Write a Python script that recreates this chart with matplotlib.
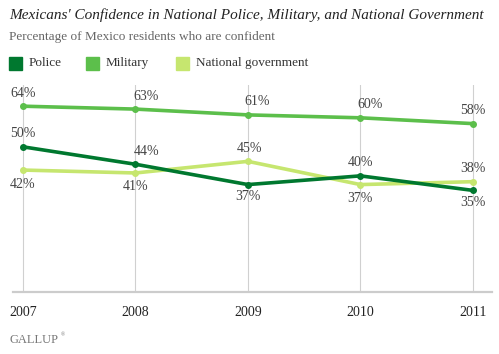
import matplotlib.pyplot as plt

years = [2007, 2008, 2009, 2010, 2011]
police = [50, 44, 37, 40, 35]
military = [64, 63, 61, 60, 58]
government = [42, 41, 45, 37, 38]

c_police = "#00782f"
c_military = "#5cbf4b"
c_gov = "#c6e66f"

plt.rcParams['font.family'] = ['Liberation Serif', 'DejaVu Serif']

fig = plt.figure(figsize=(4.99, 3.54), dpi=100)
ax = fig.add_axes([13 / 499, 1 - 292 / 354, 479 / 499, 207 / 354])

for vals, col in [(government, c_gov), (police, c_police), (military, c_military)]:
    ax.plot(years, vals, color=col, lw=2.6, marker="o", ms=4, solid_capstyle="round", zorder=3)

ax.set_xlim(2006.911, 2011.17)
ax.set_ylim(0, 71.3)
ax.set_xticks(years)
ax.set_xticklabels([str(y) for y in years], fontsize=10, color="#222222")
ax.set_yticks([])
ax.tick_params(axis="x", length=0, pad=10)
ax.grid(axis="x", color="#d0d0d0", lw=0.8, zorder=0)
for s in ["top", "right", "left"]:
    ax.spines[s].set_visible(False)
ax.spines["bottom"].set_color("#cccccc")
ax.spines["bottom"].set_linewidth(1.6)

# label shifts in pixels (x) per year: middle years nudged right
mil_dx = [0, 11, 9, 10, 0]
pol_dx = [0, 11, 0, 0, 0]
gov_dx = [0, 0, 2, 0, 0]

lab = dict(fontsize=10, color="#444444", zorder=4, ha="center", va="center", textcoords="offset pixels")
for i, y in enumerate(years):
    ax.annotate(f"{military[i]}%", (y, military[i]), xytext=(mil_dx[i], 13), **lab)
    up_p = 13 if police[i] > government[i] else -12
    ax.annotate(f"{police[i]}%", (y, police[i]), xytext=(pol_dx[i], up_p), **lab)
    ax.annotate(f"{government[i]}%", (y, government[i]), xytext=(gov_dx[i], -up_p - (1 if up_p > 0 else -1)), **lab)

fig.text(9 / 499, 1 - 15 / 354, "Mexicans' Confidence in National Police, Military, and National Government",
         fontsize=11, style="italic", color="#222222", va="center")
fig.text(9 / 499, 1 - 37 / 354, "Percentage of Mexico residents who are confident",
         fontsize=9.5, color="#666666", va="center")

legend_items = [("Police", c_police, 9), ("Military", c_military, 86), ("National government", c_gov, 176)]
for name, col, x0 in legend_items:
    fig.patches.append(plt.Rectangle((x0 / 499, 1 - 70 / 354), 13 / 499, 13 / 354,
                                     transform=fig.transFigure, color=col, figure=fig))
    fig.text((x0 + 20) / 499, 1 - 63 / 354, name, fontsize=9.5, color="#333333", va="center")

fig.text(9 / 499, 1 - 340 / 354, "GALLUP", fontsize=9, color="#777777", va="center")
fig.text(61 / 499, 1 - 335 / 354, "®", fontsize=4, color="#777777", va="center")

fig.savefig("out.png", dpi=100)
